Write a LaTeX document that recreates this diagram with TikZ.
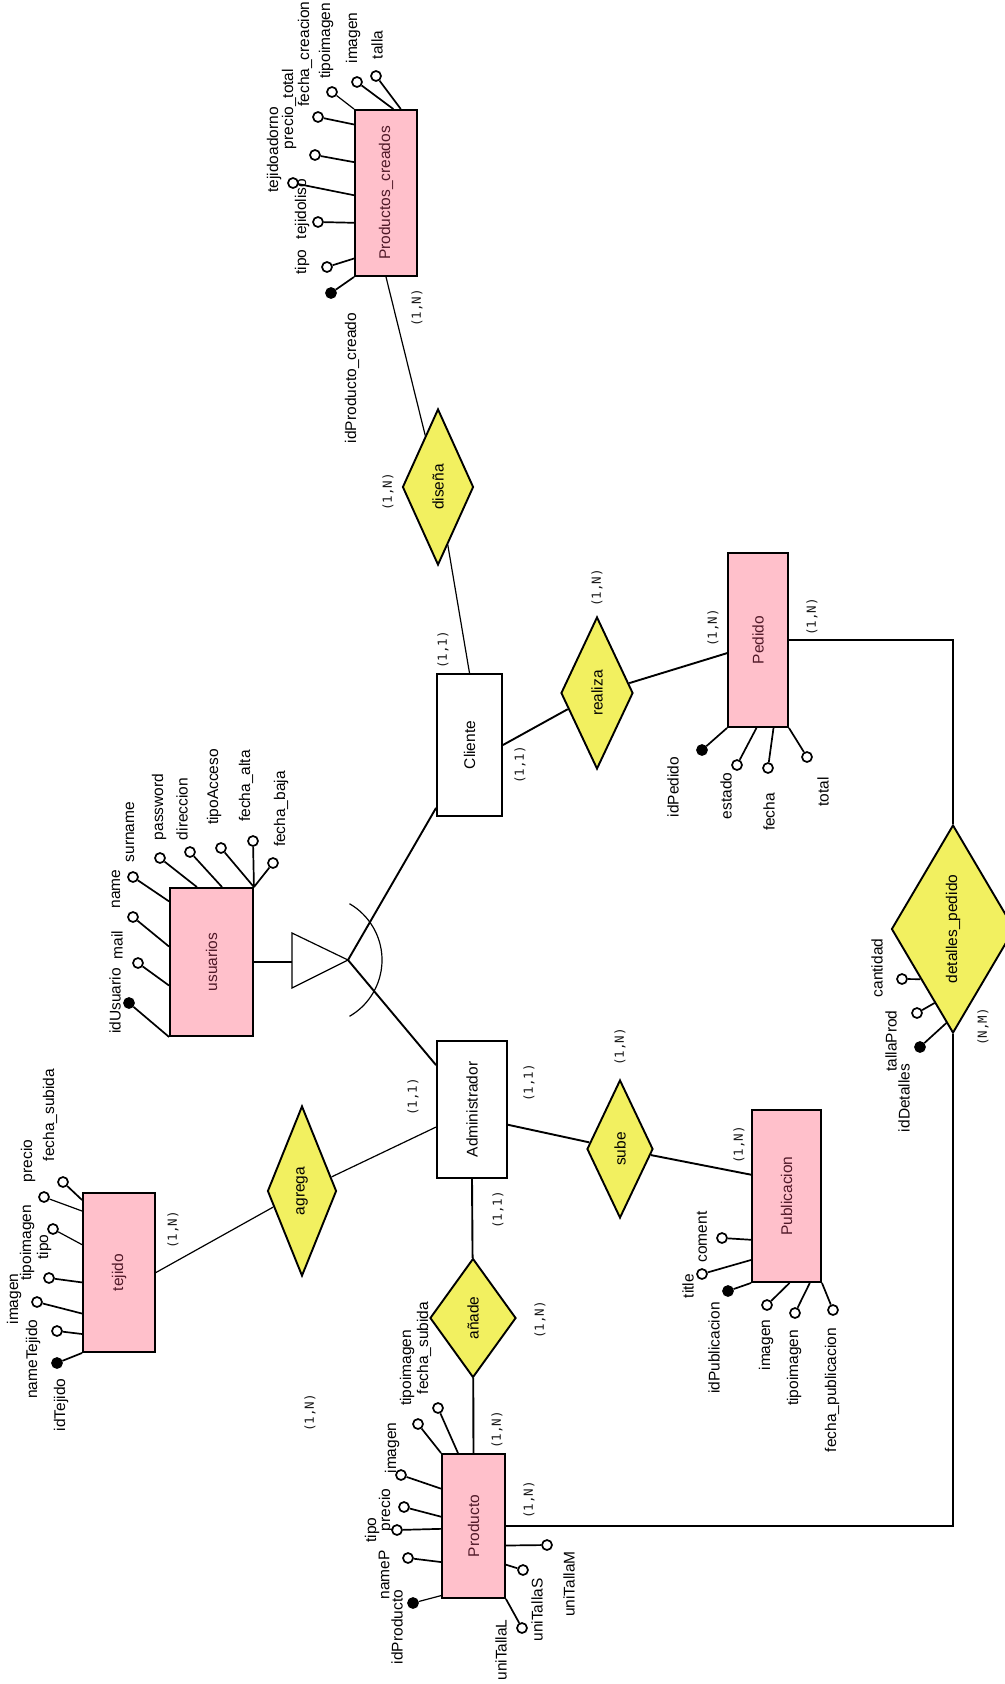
\documentclass[tikz,border=0pt]{standalone}
\usepackage{fontspec}
\setmainfont{Liberation Sans}
\newfontfamily\cardfont{DejaVu Sans Mono}
\usepackage{graphicx}
\usepackage{tikz}
\usetikzlibrary{shapes.geometric}

\definecolor{entPink}{RGB}{255,192,203}
\definecolor{relYellow}{RGB}{242,240,96}
\definecolor{entText}{RGB}{80,25,40}
\newcommand{\rotlbl}[1]{\rotatebox{90}{#1}}

\begin{document}
\begin{tikzpicture}
[
	x	= 1pt,	% one unit is one pixel of the drawing
	y	= -1pt,	% pixels are counted downwards
	entity/.style	= {shape = rectangle, draw = black, line width = 1.9pt, fill = entPink, text = entText, inner sep = 0pt, font = \fontsize{15.5}{18}\selectfont},
	role/.style	= {shape = rectangle, draw = black, line width = 1.9pt, fill = white, inner sep = 0pt, font = \fontsize{15.5}{18}\selectfont},
	relation/.style	= {shape = diamond, draw = black, line width = 1.9pt, fill = relYellow, inner sep = 0pt, font = \fontsize{15.5}{18}\selectfont},
	attr/.style	= {shape = circle, draw = black, line width = 1.7pt, fill = white, minimum size = 10pt, inner sep = 0pt},
	keyattr/.style	= {attr, fill = black},
	lbl/.style	= {rotate = 90, inner sep = 0pt, font = \fontsize{15.5}{18}\selectfont},
	card/.style	= {rotate = 90, inner sep = 0pt, text = black!90, font = \cardfont\fontsize{12.5}{14}\selectfont},
	link/.style	= {line width = 1.9pt},
	thinlink/.style	= {line width = 1.2pt},
	attrlink/.style	= {line width = 1.7pt},
]

\path [use as bounding box, fill = white] (0,0) rectangle (1004,1684);

{
	% nodes declaration
	\node (nProdCreados) [entity, minimum width = 62pt, minimum height = 166pt] at (386,193) {\rotlbl{Productos\_creados}};
	\node (nCliente) [role, minimum width = 65pt, minimum height = 142pt] at (469.5,745) {\rotlbl{Cliente}};
	\node (nPedido) [entity, minimum width = 60pt, minimum height = 174pt] at (758,640) {\rotlbl{Pedido}};
	\node (nUsuarios) [entity, minimum width = 83pt, minimum height = 148pt] at (211.5,962) {\rotlbl{usuarios}};
	\node (nAdmin) [role, minimum width = 70pt, minimum height = 137pt] at (472,1109.5) {\rotlbl{Administrador}};
	\node (nPublicacion) [entity, minimum width = 69pt, minimum height = 172pt] at (786.5,1196) {\rotlbl{Publicacion}};
	\node (nTejido) [entity, minimum width = 72pt, minimum height = 159pt] at (119,1272.5) {\rotlbl{tejido}};
	\node (nProducto) [entity, minimum width = 63pt, minimum height = 144pt] at (473.5,1526) {\rotlbl{Producto}};

	\node (nDisena) [relation, minimum width = 71pt, minimum height = 156pt] at (438,487) {\rotlbl{diseña}};
	\node (nRealiza) [relation, minimum width = 72pt, minimum height = 152pt] at (597,693) {\rotlbl{realiza}};
	\node (nSube) [relation, minimum width = 66pt, minimum height = 138pt] at (620,1149) {\rotlbl{sube}};
	\node (nAgrega) [relation, minimum width = 69pt, minimum height = 170pt] at (302,1191) {\rotlbl{agrega}};
	\node (nAnade) [relation, minimum width = 86pt, minimum height = 119pt] at (473,1318) {\rotlbl{añade}};
	\node (nDetalles) [relation, minimum width = 102pt, minimum height = 208pt] at (953,929) {\rotlbl{detalles\_pedido}};

	\coordinate (cIsaTop) at (292,933);
	\coordinate (cIsaBottom) at (292,988);
	\coordinate (cIsaTip) at (348,960);
	\coordinate (cIsaBase) at (292,962);
	\coordinate (cIsaArc) at (349.5,1016.3);

	% attributes of Productos_creados
	\node (nPcId) [keyattr] at (331,293) {};
	\node (nPcTipo) [attr] at (327,267) {};
	\node (nPcLiso) [attr] at (318,222) {};
	\node (nPcAdorno) [attr] at (293,183) {};
	\node (nPcPrecio) [attr] at (315,155) {};
	\node (nPcFecha) [attr] at (318,117) {};
	\node (nPcTipoImg) [attr] at (332,92) {};
	\node (nPcImagen) [attr] at (357,82) {};
	\node (nPcTalla) [attr] at (376,76) {};
	\node (nPcIdTxt) [lbl] at (352,378) {idProducto\_creado};
	\node (nPcTipoTxt) [lbl] at (302,262) {tipo};
	\node (nPcLisoTxt) [lbl] at (302,209) {tejidoliso};
	\node (nPcAdornoTxt) [lbl] at (274,150) {tejidoadorno};
	\node (nPcPrecioTxt) [lbl] at (289,109) {precio\_total};
	\node (nPcFechaTxt) [lbl] at (305,54) {fecha\_creacion};
	\node (nPcTipoImgTxt) [lbl] at (326,41) {tipoimagen};
	\node (nPcImagenTxt) [lbl] at (353,38) {imagen};
	\node (nPcTallaTxt) [lbl] at (377,45) {talla};

	% attributes of usuarios
	\node (nUsuId) [keyattr] at (129,1003) {};
	\node (nUsuMail) [attr] at (138,963) {};
	\node (nUsuName) [attr] at (133,917) {};
	\node (nUsuSurname) [attr] at (133,877) {};
	\node (nUsuPass) [attr] at (160,858) {};
	\node (nUsuDir) [attr] at (190,852) {};
	\node (nUsuAcceso) [attr] at (221,848) {};
	\node (nUsuAlta) [attr] at (253,841) {};
	\node (nUsuBaja) [attr] at (273,863) {};
	\node (nUsuIdTxt) [lbl] at (115,1001) {idUsuario};
	\node (nUsuMailTxt) [lbl] at (117,945) {mail};
	\node (nUsuNameTxt) [lbl] at (116,889) {name};
	\node (nUsuSurnameTxt) [lbl] at (130,832) {surname};
	\node (nUsuPassTxt) [lbl] at (159,807) {password};
	\node (nUsuDirTxt) [lbl] at (182,809) {direccion};
	\node (nUsuAccesoTxt) [lbl] at (214,787) {tipoAcceso};
	\node (nUsuAltaTxt) [lbl] at (246,786) {fecha\_alta};
	\node (nUsuBajaTxt) [lbl] at (281,809) {fecha\_baja};

	% attributes of Pedido
	\node (nPedId) [keyattr] at (702,750) {};
	\node (nPedEstado) [attr] at (737,765) {};
	\node (nPedFecha) [attr] at (768,768) {};
	\node (nPedTotal) [attr] at (807,757) {};
	\node (nPedIdTxt) [lbl] at (673,787) {idPedido};
	\node (nPedEstadoTxt) [lbl] at (726,796) {estado};
	\node (nPedFechaTxt) [lbl] at (769,812) {fecha};
	\node (nPedTotalTxt) [lbl] at (823,792) {total};

	% attributes of detalles_pedido
	\node (nDetCantidad) [attr] at (902,979) {};
	\node (nDetTalla) [attr] at (917,1013) {};
	\node (nDetId) [keyattr] at (920,1047) {};
	\node (nDetCantidadTxt) [lbl] at (877,968) {cantidad};
	\node (nDetTallaTxt) [lbl] at (891,1041) {tallaProd};
	\node (nDetIdTxt) [lbl] at (904,1098) {idDetalles};

	% attributes of Publicacion
	\node (nPubComent) [attr] at (722,1238) {};
	\node (nPubTitle) [attr] at (702,1274) {};
	\node (nPubId) [keyattr] at (728,1291) {};
	\node (nPubImagen) [attr] at (767,1305) {};
	\node (nPubTipoImg) [attr] at (795,1313) {};
	\node (nPubFecha) [attr] at (833,1310) {};
	\node (nPubComentTxt) [lbl] at (702,1237) {coment};
	\node (nPubTitleTxt) [lbl] at (688,1286) {title};
	\node (nPubIdTxt) [lbl] at (714,1348) {idPublicacion};
	\node (nPubImagenTxt) [lbl] at (766,1345) {imagen};
	\node (nPubTipoImgTxt) [lbl] at (794,1368) {tipoimagen};
	\node (nPubFechaTxt) [lbl] at (832,1390) {fecha\_publicacion};

	% attributes of tejido
	\node (nTejId) [keyattr] at (57,1363) {};
	\node (nTejName) [attr] at (57,1331) {};
	\node (nTejImagen) [attr] at (37,1302) {};
	\node (nTejTipoImg) [attr] at (49,1278) {};
	\node (nTejTipo) [attr] at (53,1229) {};
	\node (nTejPrecio) [attr] at (44,1197) {};
	\node (nTejFecha) [attr] at (63,1182) {};
	\node (nTejIdTxt) [lbl] at (61,1405) {idTejido};
	\node (nTejNameTxt) [lbl] at (33,1359) {nameTejido};
	\node (nTejImagenTxt) [lbl] at (14,1299) {imagen};
	\node (nTejTipoImgTxt) [lbl] at (27,1243) {tipoimagen};
	\node (nTejTipoTxt) [lbl] at (44,1247) {tipo};
	\node (nTejPrecioTxt) [lbl] at (28,1161) {precio};
	\node (nTejFechaTxt) [lbl] at (50,1115) {fecha\_subida};

	% attributes of Producto
	\node (nProId) [keyattr] at (413,1603) {};
	\node (nProName) [attr] at (408,1558) {};
	\node (nProTipo) [attr] at (397,1530) {};
	\node (nProPrecio) [attr] at (404,1507) {};
	\node (nProImagen) [attr] at (401,1475) {};
	\node (nProTipoImg) [attr] at (418,1424) {};
	\node (nProFecha) [attr] at (438,1408) {};
	\node (nProTallaM) [attr] at (547,1545) {};
	\node (nProTallaS) [attr] at (523,1570) {};
	\node (nProTallaL) [attr] at (522,1628) {};
	\node (nProIdTxt) [lbl] at (397,1627) {idProducto};
	\node (nProNameTxt) [lbl] at (384,1575) {nameP};
	\node (nProTipoTxt) [lbl] at (372,1530) {tipo};
	\node (nProPrecioTxt) [lbl] at (386,1510) {precio};
	\node (nProImagenTxt) [lbl] at (392,1448) {imagen};
	\node (nProTipoImgTxt) [lbl] at (407,1368) {tipoimagen};
	\node (nProFechaTxt) [lbl] at (424,1348) {fecha\_subida};
	\node (nProTallaMTxt) [lbl] at (569,1584) {uniTallaM};
	\node (nProTallaSTxt) [lbl] at (537,1610) {uniTallaS};
	\node (nProTallaLTxt) [lbl] at (501,1650) {uniTallaL};

	% cardinalities
	\node (nCardPcDis) [card] at (417,308) {(1,N)};
	\node (nCardDisPc) [card] at (388,492) {(1,N)};
	\node (nCardCliDis) [card] at (443,650) {(1,1)};
	\node (nCardCliRea) [card] at (520,765) {(1,1)};
	\node (nCardReaPed) [card] at (597,588) {(1,N)};
	\node (nCardPedRea) [card] at (713,628) {(1,N)};
	\node (nCardPedDet) [card] at (812,617) {(1,N)};
	\node (nCardDet) [card] at (983,1027) {(N,M)};
	\node (nCardAdmAgr) [card] at (413,1097) {(1,1)};
	\node (nCardAdmSub) [card] at (529,1083) {(1,1)};
	\node (nCardSubPub) [card] at (620,1047) {(1,N)};
	\node (nCardPubSub) [card] at (739,1145) {(1,N)};
	\node (nCardTejAgr) [card] at (173,1230) {(1,N)};
	\node (nCardAgrTej) [card] at (310,1413) {(1,N)};
	\node (nCardAdmAna) [card] at (498,1210) {(1,1)};
	\node (nCardAnaPro) [card] at (540,1320) {(1,N)};
	\node (nCardProAna) [card] at (497,1430) {(1,N)};
	\node (nCardProDet) [card] at (529,1500) {(1,N)};

	% edges declartion
	\draw [thinlink] (nCliente.north) -- (nDisena);
	\draw [thinlink] (nDisena) -- (nProdCreados.south);
	\draw [link] (nCliente.east) -- (nRealiza);
	\draw [link] (nRealiza) -- (nPedido.203);
	\draw [link] (nPedido.east) -| (nDetalles.north);
	\draw [link] (nProducto.east) -| (nDetalles.south);
	\draw [thinlink] (nAdmin.206) -- (nAgrega);
	\draw [thinlink] (nAgrega) -- (nTejido.east);
	\draw [link] (nAdmin.337) -- (nSube);
	\draw [link] (nSube) -- (nPublicacion.149);
	\draw [link] (nAdmin.south) -- (nAnade);
	\draw [link] (nAnade) -- (nProducto.north);

	\draw [link] (nUsuarios.east) -- (cIsaBase);
	\draw [thinlink] (cIsaTop) -- (cIsaBottom) -- (cIsaTip) -- cycle;
	\draw [link] (cIsaTip) -- (nCliente.242);
	\draw [link] (cIsaTip) -- (nAdmin.129);
	\draw [thinlink] (cIsaArc) arc [start angle = -60, end angle = 60, radius = 65pt];

	\draw [attrlink] (nProdCreados.south west) -- (nPcId);
	\draw [attrlink] (nProdCreados.244) -- (nPcTipo);
	\draw [attrlink] (nProdCreados.223) -- (nPcLiso);
	\draw [attrlink] (nProdCreados.184) -- (nPcAdorno);
	\draw [attrlink] (nProdCreados.136) -- (nPcPrecio);
	\draw [attrlink] (nProdCreados.115) -- (nPcFecha);
	\draw [thinlink] (nProdCreados.north west) -- (nPcTipoImg);
	\draw [attrlink] (nProdCreados.85) -- (nPcImagen);
	\draw [attrlink] (nProdCreados.80) -- (nPcTalla);

	\draw [attrlink] (nUsuarios.south west) -- (nUsuId);
	\draw [attrlink] (nUsuarios.209) -- (nUsuMail);
	\draw [attrlink] (nUsuarios.160) -- (nUsuName);
	\draw [attrlink] (nUsuarios.125) -- (nUsuSurname);
	\draw [attrlink] (nUsuarios.101) -- (nUsuPass);
	\draw [attrlink] (nUsuarios.82) -- (nUsuDir);
	\draw [attrlink] (nUsuarios.north east) -- (nUsuAcceso);
	\draw [attrlink] (nUsuarios.north east) -- (nUsuAlta);
	\draw [attrlink] (nUsuarios.north east) -- (nUsuBaja);

	\draw [attrlink] (nPedido.south west) -- (nPedId);
	\draw [attrlink] (nPedido.269) -- (nPedEstado);
	\draw [attrlink] (nPedido.280) -- (nPedFecha);
	\draw [attrlink] (nPedido.south east) -- (nPedTotal);

	\draw [attrlink] (nDetalles.237) -- (nDetCantidad);
	\draw [attrlink] (nDetalles.256) -- (nDetTalla);
	\draw [attrlink] (nDetalles.266) -- (nDetId);

	\draw [attrlink] (nPublicacion.231) -- (nPubComent);
	\draw [attrlink] (nPublicacion.241) -- (nPubTitle);
	\draw [attrlink] (nPublicacion.south west) -- (nPubId);
	\draw [attrlink] (nPublicacion.272) -- (nPubImagen);
	\draw [attrlink] (nPublicacion.285) -- (nPubTipoImg);
	\draw [attrlink] (nPublicacion.south east) -- (nPubFecha);

	\draw [attrlink] (nTejido.south west) -- (nTejId);
	\draw [attrlink] (nTejido.239) -- (nTejName);
	\draw [attrlink] (nTejido.228) -- (nTejImagen);
	\draw [attrlink] (nTejido.195) -- (nTejTipoImg);
	\draw [thinlink] (nTejido.143) -- (nTejTipo);
	\draw [thinlink] (nTejido.121) -- (nTejPrecio);
	\draw [attrlink] (nTejido.117) -- (nTejFecha);

	\draw [thinlink] (nProducto.245) -- (nProId);
	\draw [attrlink] (nProducto.228) -- (nProName);
	\draw [attrlink] (nProducto.185) -- (nProTipo);
	\draw [attrlink] (nProducto.164) -- (nProPrecio);
	\draw [attrlink] (nProducto.131) -- (nProImagen);
	\draw [attrlink] (nProducto.north west) -- (nProTipoImg);
	\draw [attrlink] (nProducto.102) -- (nProFecha);
	\draw [attrlink] (nProducto.329) -- (nProTallaM);
	\draw [attrlink] (nProducto.310) -- (nProTallaS);
	\draw [attrlink] (nProducto.south east) -- (nProTallaL);
}

\end{tikzpicture}
\end{document}
